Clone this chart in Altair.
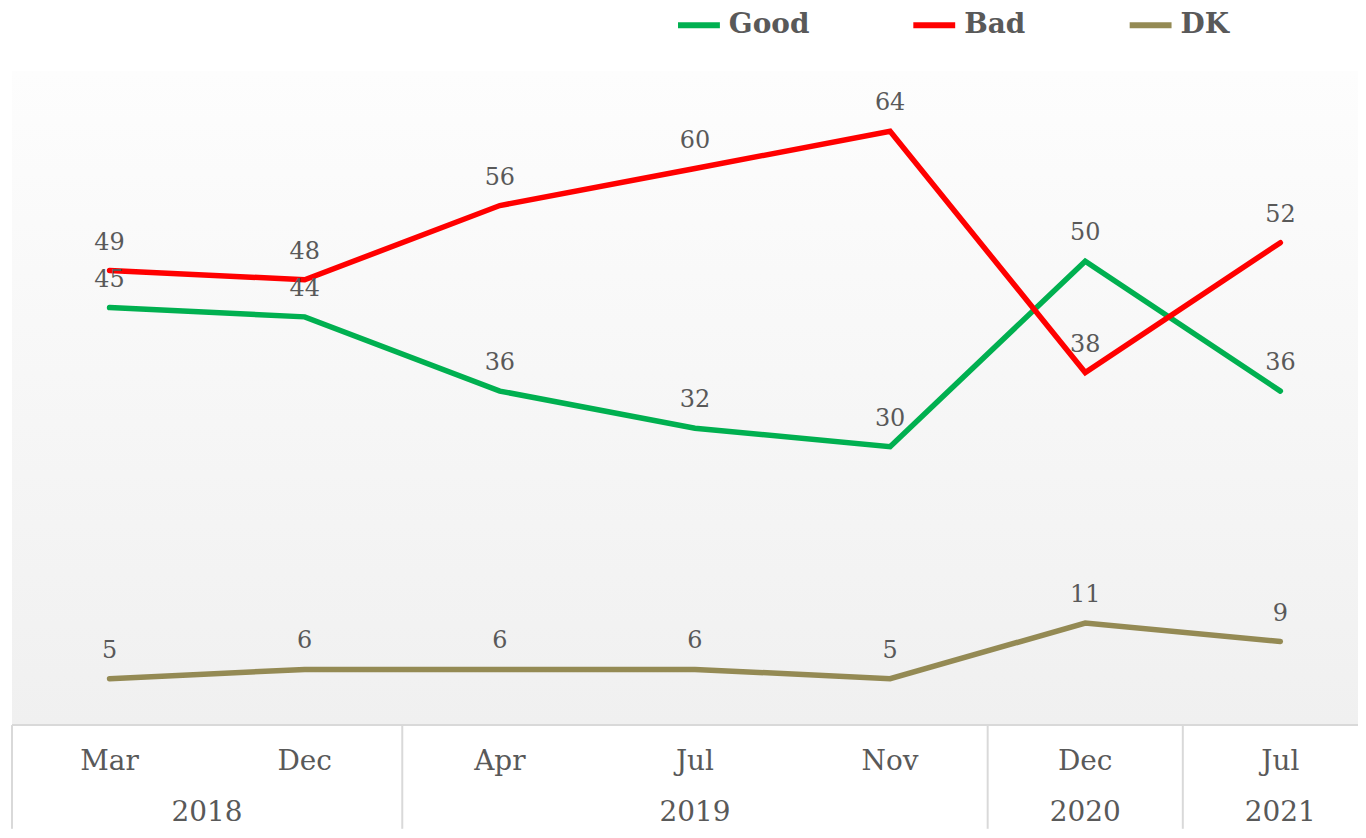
import altair as alt
import pandas as pd

months = ["Mar", "Dec", "Apr", "Jul", "Nov", "Dec", "Jul"]
years = ["2018", "2018", "2019", "2019", "2019", "2020", "2021"]
series_names = ["Good", "Bad", "DK"]
good = [45, 44, 36, 32, 30, 50, 36]
bad = [49, 48, 56, 60, 64, 38, 52]
dk = [5, 6, 6, 6, 5, 11, 9]
colors = ["#00B050", "#FF0000", "#948A54"]

W, H = 1350, 656
FONT = "DejaVu Serif"
GRAY = "#595959"
LINE_GRAY = "#D9D9D9"

rows = []
for name, vals in zip(series_names, [good, bad, dk]):
    for i, v in enumerate(vals):
        rows.append({"idx": i, "series": name, "val": v})
df = pd.DataFrame(rows)

cat_df = pd.DataFrame({"idx": list(range(len(months))), "month": months, "year": years})

groups = []
start = 0
for i in range(1, len(years) + 1):
    if i == len(years) or years[i] != years[start]:
        groups.append({"year": years[start], "center": (start + i - 1) / 2, "left": start - 0.5})
        start = i
grp_df = pd.DataFrame(groups)
sep_df = pd.DataFrame({"sep": [g["left"] for g in groups]})

xscale = alt.Scale(domain=[-0.5, len(months) - 0.5], range=[0, 1370], nice=False, zero=False)
yscale = alt.Scale(domain=[0, 70.5], nice=False, zero=True)

grad = alt.Gradient(
    gradient="linear",
    stops=[alt.GradientStop(color="#FDFDFD", offset=0), alt.GradientStop(color="#F0F0F0", offset=1)],
    x1=0, x2=0, y1=0, y2=1,
)
bg = alt.Chart(pd.DataFrame({"a": [0]})).mark_rect(color=grad).encode(
    x=alt.value(0), x2=alt.value(W), y=alt.value(0), y2=alt.value(H)
)

lines = alt.Chart(df).mark_line(strokeWidth=5.5, strokeCap="round").encode(
    x=alt.X("idx:Q", scale=xscale, axis=None),
    y=alt.Y("val:Q", scale=yscale, axis=None),
    color=alt.Color(
        "series:N",
        scale=alt.Scale(domain=series_names, range=colors),
        legend=alt.Legend(
            title=None,
            orient="none",
            direction="horizontal",
            legendX=665,
            legendY=-70,
            symbolType="stroke",
            symbolStrokeWidth=6,
            symbolSize=1764,
            labelFont=FONT,
            labelFontWeight="bold",
            labelFontSize=28,
            labelColor=GRAY,
            labelOffset=6,
            columnPadding=92,
        ),
    ),
)

labels = alt.Chart(df).mark_text(font=FONT, fontSize=24, color=GRAY, dy=-28, baseline="middle").encode(
    x=alt.X("idx:Q", scale=xscale, axis=None),
    y=alt.Y("val:Q", scale=yscale, axis=None),
    text="val:Q",
)

axis_line = alt.Chart(pd.DataFrame({"a": [0]})).mark_rule(color=LINE_GRAY, strokeWidth=2).encode(
    x=alt.value(0), x2=alt.value(W), y=alt.value(H)
)

seps = alt.Chart(sep_df).mark_rule(color=LINE_GRAY, strokeWidth=2).encode(
    x=alt.X("sep:Q", scale=xscale, axis=None), y=alt.value(H), y2=alt.value(H + 104)
)

month_text = alt.Chart(cat_df).mark_text(font=FONT, fontSize=28, color=GRAY, baseline="middle").encode(
    x=alt.X("idx:Q", scale=xscale, axis=None), y=alt.value(H + 37), text="month:N"
)

year_text = alt.Chart(grp_df).mark_text(font=FONT, fontSize=28, color=GRAY, baseline="middle").encode(
    x=alt.X("center:Q", scale=xscale, axis=None), y=alt.value(H + 88), text="year:N"
)

chart = alt.layer(bg, axis_line, seps, lines, labels, month_text, year_text).properties(
    width=W, height=H,
    padding={"left": 4, "top": 62, "right": 0, "bottom": 104},
    autosize=alt.AutoSizeParams(type="none"),
    background="white",
).configure_view(strokeWidth=0)

chart.save("out.html", embed_options={"renderer": "svg", "actions": False})
